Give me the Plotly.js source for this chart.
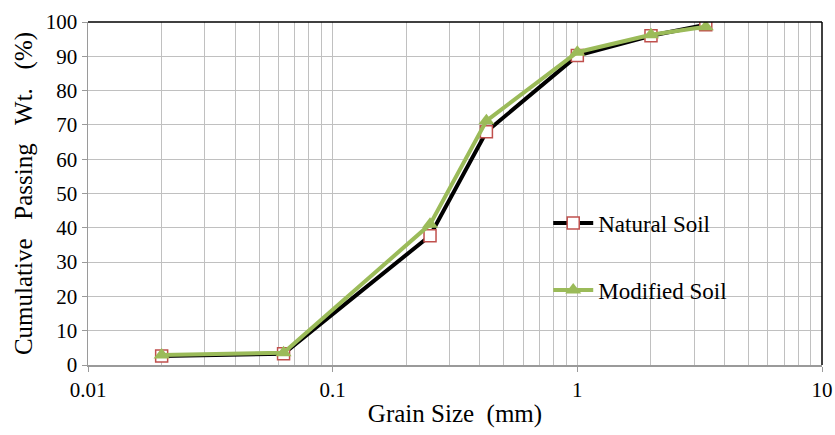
<!DOCTYPE html>
<html><head><meta charset="utf-8">
<script src="https://cdn.plot.ly/plotly-3.0.1.min.js"></script>
<style>body{margin:0;background:#fff}#c{width:835px;height:435px} p{margin:0;font-size:3px;color:#fefefe;font-family:'Liberation Serif';position:absolute;left:2px;top:431px}</style>
</head><body>
<p>0.1</p>
<div id="c"></div>
<script>
const grainSize = [0.02, 0.063, 0.25, 0.425, 1.0, 2.0, 3.35];
const naturalSoil = [2.6, 3.3, 37.7, 68.0, 90.2, 96.0, 99.2];
const modifiedSoil = [2.9, 3.6, 41.0, 71.2, 91.2, 96.3, 98.6];
const xTickVals = [0.01, 0.1, 1, 10];
const xTickText = ["0.01", "0.1", "1", "10"];
const seriesNames = ["Natural Soil", "Modified Soil"];

const traces = [
  {x: grainSize, y: naturalSoil, name: seriesNames[0], mode: "lines+markers", legendgroup: "a",
   line: {color: "#000000", width: 4},
   marker: {symbol: "square", size: 12, color: "#ffffff", line: {color: "#c0504d", width: 1.5}}},
  {x: grainSize, y: modifiedSoil, name: seriesNames[1], mode: "lines+markers", legendgroup: "b",
   line: {color: "#9bbb59", width: 4},
   marker: {symbol: "triangle-up", size: 14, color: "#9bbb59"}}
];
const layout = {
  width: 835, height: 435,
  margin: {l: 88, r: 13, t: 22, b: 70},
  font: {family: '"Liberation Serif", serif', size: 21, color: "#000"},
  xaxis: {type: "log", range: [-2, 1], tickvals: xTickVals, ticktext: xTickText,
    showgrid: true, gridcolor: "#c0c0c0", gridwidth: 1,
    minor: {dtick: "D1", showgrid: true, gridcolor: "#c0c0c0", gridwidth: 1, ticks: ""},
    showline: true, linecolor: "#9a9a9a", linewidth: 1.5,
    ticks: "outside", ticklen: 5, tickcolor: "#9a9a9a", zeroline: false,
    title: {text: "Grain Size  (mm)", standoff: 4}},
  yaxis: {range: [0, 100], dtick: 10, showgrid: true, gridcolor: "#c0c0c0", gridwidth: 1,
    showline: true, linecolor: "#9a9a9a", linewidth: 1.5,
    ticks: "outside", ticklen: 5, tickcolor: "#9a9a9a", zeroline: false,
    title: {text: "Cumulative   Passing   Wt.   (%)", standoff: 6}},
  shapes: [
    {type: "line", xref: "paper", yref: "paper", x0: 0, x1: 1, y0: 1, y1: 1, line: {color: "#000", width: 1.5}},
    {type: "line", xref: "paper", yref: "paper", x0: 1, x1: 1, y0: 0, y1: 1, line: {color: "#000", width: 1.5}}
  ],
  showlegend: true,
  legend: {x: 0.627, y: 0.316, xanchor: "left", yanchor: "middle", bgcolor: "rgba(0,0,0,0)",
    font: {size: 23}, tracegroupgap: 34, itemwidth: 40}
};
Plotly.newPlot("c", traces, layout, {staticPlot: true});
</script></body></html>
